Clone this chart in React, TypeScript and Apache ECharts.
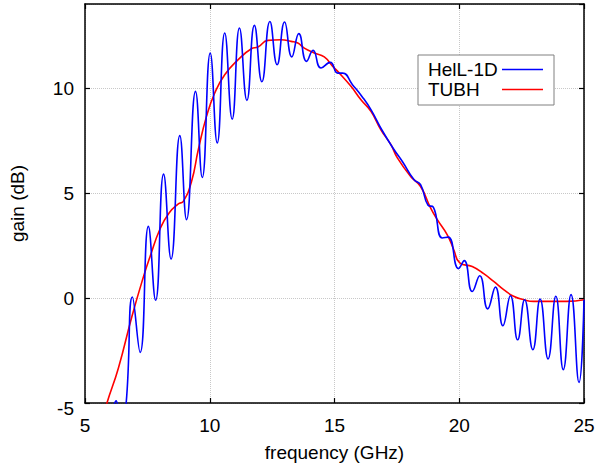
import React, { useEffect, useRef } from "react";
import * as echarts from "echarts";

const xTicks = [5, 10, 15, 20, 25];
const yTicks = [-5, 0, 5, 10];

const seriesNames = ["HelL-1D", "TUBH"];

// HelL-1D (blue): [frequency GHz, gain dB]
const hell1dFreq = [
  6.0, 6.25, 6.45, 6.65, 6.9, 7.21, 7.54, 7.83, 8.15, 8.45, 8.8, 9.07, 9.43, 9.7,
  10.02, 10.3, 10.6, 10.9, 11.19, 11.49, 11.79, 12.09, 12.41, 12.7, 13.0, 13.29,
  13.57, 13.88, 14.14, 14.46, 14.83, 15.13, 15.33, 15.72, 16.1, 16.46, 16.9, 17.39,
  17.72, 18.19, 18.45, 18.75, 18.96, 19.32, 19.56, 19.97, 20.2, 20.52, 20.82, 21.14,
  21.45, 21.75, 22.05, 22.34, 22.62, 22.95, 23.24, 23.56, 23.87, 24.17, 24.48, 24.8, 25.0,
];
const hell1dGain = [
  -6.5, -4.9, -6.0, -5.0, 0.05, -2.59, 3.41, -0.11, 5.9, 1.86, 7.73, 3.73, 9.84, 5.74,
  11.67, 7.38, 12.62, 8.52, 12.86, 9.41, 12.98, 10.3, 13.17, 11.11, 13.14, 11.48,
  12.59, 11.27, 11.79, 10.95, 11.22, 10.71, 10.71, 10.16, 9.6, 8.97, 8.0, 7.06,
  6.5, 5.63, 5.4, 4.42, 4.33, 2.86, 2.9, 1.4, 1.78, 0.31, 1.06, -0.52,
  0.52, -1.32, 0.11, -1.99, -0.08, -2.46, -0.05, -2.9, 0.08, -3.41, 0.16, -4.02, -0.08,
];

// TUBH (red)
const tubhFreq = [
  5.7, 5.88, 6.34, 6.88, 7.34, 7.61, 8.01, 8.37, 8.74, 8.94, 9.27, 9.54, 9.87, 10.2,
  10.6, 11.14, 11.67, 11.93, 12.33, 12.86, 13.26, 13.53, 13.79, 14.19, 14.59, 14.93,
  15.13, 15.66, 16.06, 16.46, 16.86, 17.26, 17.52, 18.05, 18.45, 18.85, 19.12, 19.52,
  19.78, 20.02, 20.52, 20.98, 21.38, 21.78, 22.18, 22.58, 22.98, 23.64, 24.31, 25.0,
];
const tubhGain = [
  -5.8, -5.0, -3.33, -0.88, 1.0, 1.98, 3.3, 4.05, 4.48, 4.6, 5.55, 7.06, 8.65, 9.76,
  10.63, 11.35, 11.87, 11.95, 12.27, 12.3, 12.22, 12.14, 11.9, 11.67, 11.48, 11.03,
  10.79, 10.08, 9.44, 8.89, 8.01, 7.3, 6.67, 5.79, 5.31, 4.29, 3.73, 3.01,
  2.3, 1.67, 1.5, 1.16, 0.79, 0.4, 0.08, -0.08, -0.16, -0.16, -0.16, -0.08,
];

const FONT = "'Liberation Sans', Arial, sans-serif";

export default function App() {
  const ref = useRef<HTMLDivElement>(null);

  useEffect(() => {
    document.body.style.margin = "0";
    const chart = echarts.init(ref.current!, null, { renderer: "svg" });
    const axisLine = { show: true, onZero: false, lineStyle: { color: "#000", width: 1.5 } };
    const axisTick = { show: true, inside: true, length: 5, lineStyle: { color: "#000", width: 1.2 } };
    const splitLine = { show: true, lineStyle: { color: "#c8c8c8", type: "dotted" as const, width: 1 } };
    const xMin = xTicks[0];
    const xMax = xTicks[xTicks.length - 1];
    const xInt = xTicks[1] - xTicks[0];
    const yMin = yTicks[0];
    const yInt = yTicks[1] - yTicks[0];
    const yMax = 14;
    chart.setOption({
      animation: false,
      backgroundColor: "#fff",
      textStyle: { fontFamily: FONT },
      grid: { left: 83, right: 28, top: 4, bottom: 68, containLabel: false },
      legend: {
        orient: "vertical",
        left: 418,
        top: 55,
        align: "right",
        icon: "path://M0,0 L41,0 L41,1.6 L0,1.6 Z",
        itemWidth: 41,
        itemHeight: 14,
        itemGap: 1,
        padding: [5, 11, 6, 10],
        borderColor: "#808080",
        borderWidth: 1,
        backgroundColor: "#fff",
        formatter: (name: string) => `{a|${name}}`,
        textStyle: {
          rich: {
            a: { width: 69, lineHeight: 20, align: "left", fontSize: 19, fontFamily: FONT, color: "#000" },
          },
        },
        data: seriesNames,
      },
      xAxis: [
        {
          type: "value",
          min: xMin,
          max: xMax,
          interval: xInt,
          position: "bottom",
          name: "frequency (GHz)",
          nameLocation: "middle",
          nameGap: 40,
          nameTextStyle: { fontSize: 19, color: "#000", fontFamily: FONT },
          axisLine,
          axisTick,
          axisLabel: { fontSize: 19, color: "#000", margin: 13, fontFamily: FONT },
          splitLine,
        },
        {
          type: "value",
          min: xMin,
          max: xMax,
          interval: xInt,
          position: "top",
          axisLine,
          axisTick,
          axisLabel: { show: false },
          splitLine: { show: false },
        },
      ],
      yAxis: [
        {
          type: "value",
          min: yMin,
          max: yMax,
          interval: yInt,
          position: "left",
          name: "gain (dB)",
          nameLocation: "middle",
          nameGap: 58,
          nameTextStyle: { fontSize: 19, color: "#000", fontFamily: FONT },
          axisLine,
          axisTick,
          axisLabel: {
            fontSize: 19,
            color: "#000",
            margin: 11,
            showMaxLabel: false,
            fontFamily: FONT,
            formatter: (v: number) => (v === yMin ? `{low|${v}}` : `${v}`),
            rich: { low: { fontSize: 19, fontFamily: FONT, color: "#000", padding: [10, 0, 0, 0] } },
          },
          splitLine,
        },
        {
          type: "value",
          min: yMin,
          max: yMax,
          interval: yInt,
          position: "right",
          axisLine,
          axisTick,
          axisLabel: { show: false },
          splitLine: { show: false },
        },
      ],
      series: [
        {
          name: seriesNames[0],
          type: "line",
          data: hell1dFreq.map((f, i) => [f, hell1dGain[i]]),
          symbol: "none",
          smooth: 0.5,
          clip: true,
          lineStyle: { color: "#0000ff", width: 1.6 },
          itemStyle: { color: "#0000ff" },
          z: 3,
        },
        {
          name: seriesNames[1],
          type: "line",
          data: tubhFreq.map((f, i) => [f, tubhGain[i]]),
          symbol: "none",
          smooth: 0.5,
          clip: true,
          lineStyle: { color: "#ff0000", width: 1.6 },
          itemStyle: { color: "#ff0000" },
          z: 2,
        },
      ],
    });
    return () => chart.dispose();
  }, []);

  return <div ref={ref} style={{ width: 612, height: 471 }} />;
}
